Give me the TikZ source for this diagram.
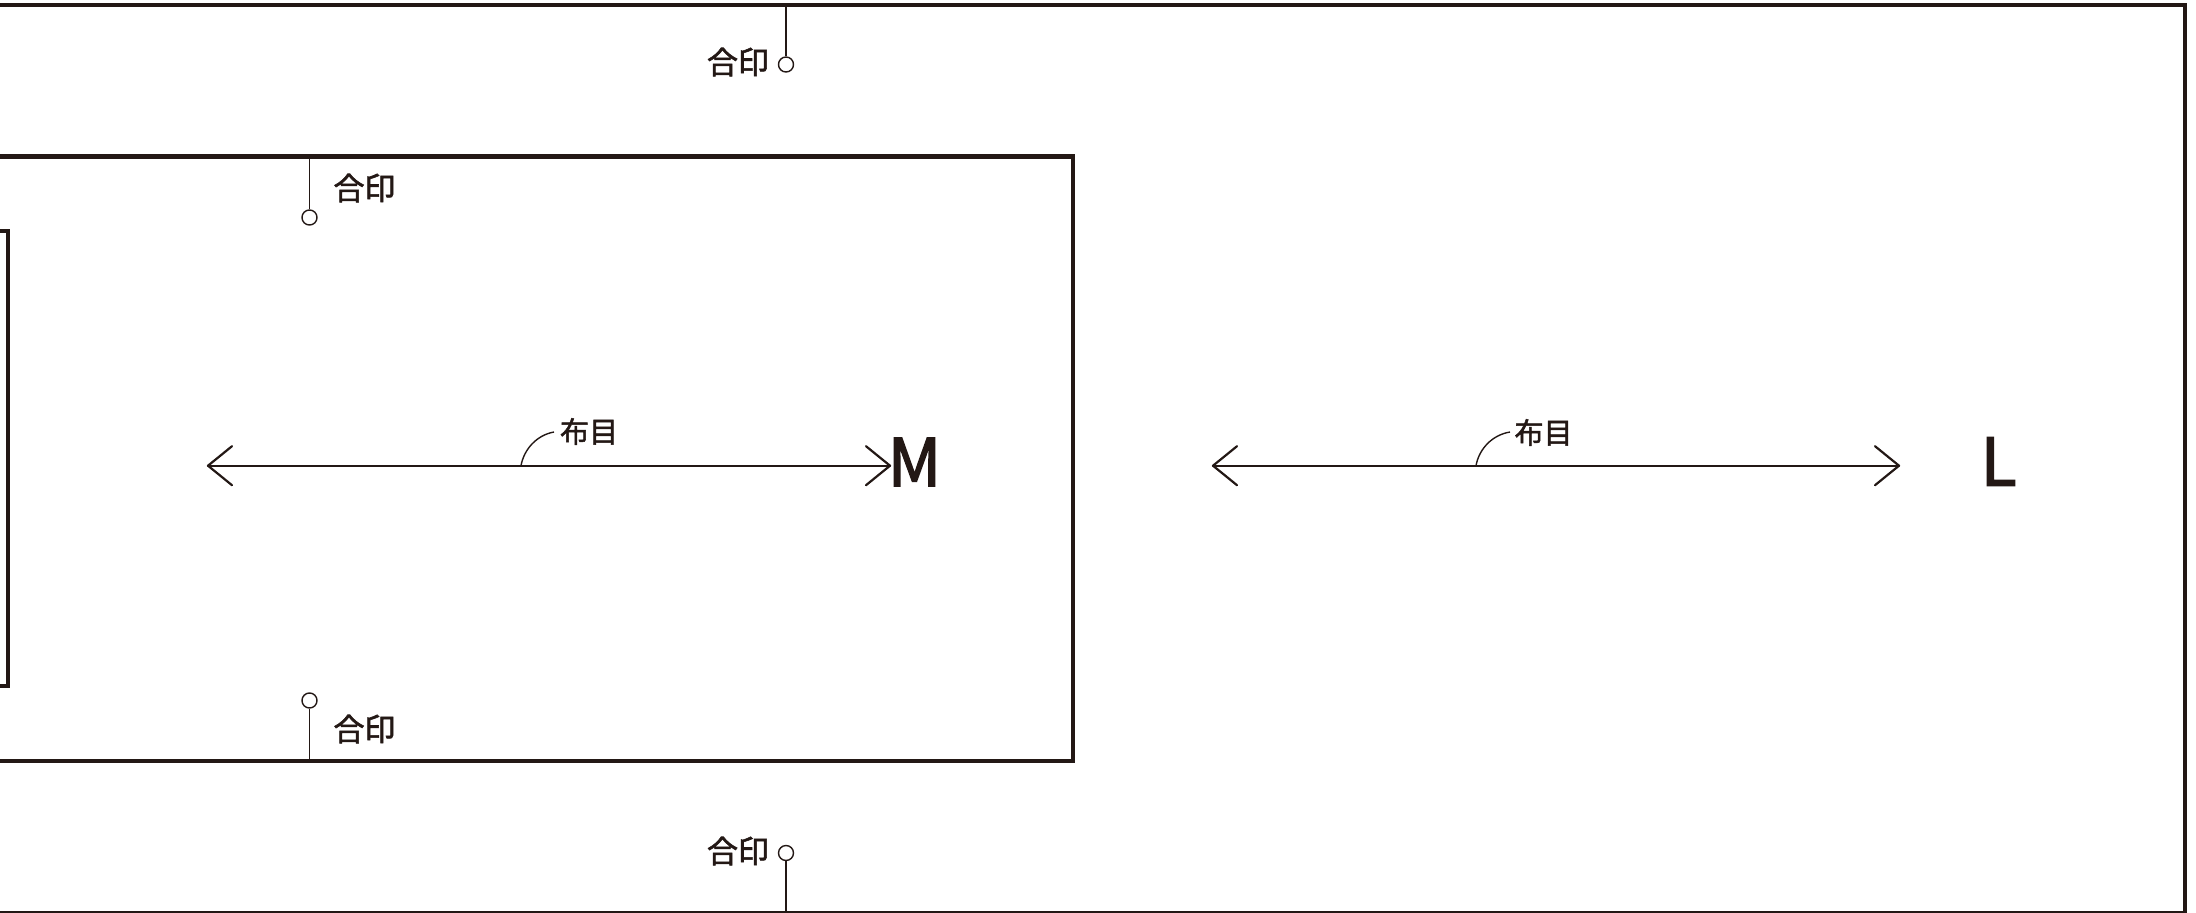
\documentclass[tikz,border=0pt]{standalone}
\usepackage{fontspec}
\newfontfamily\jpb[FakeBold=1.8]{Noto Sans CJK JP}
\newfontfamily\jpm[FakeBold=2.2]{Noto Sans CJK JP}
\definecolor{ink}{RGB}{35,24,21}
\tikzset{
  frame/.style={draw=ink, line width=4.5pt},
  grain/.style={draw=ink, line width=2.2pt, line join=round, line cap=round},
  thin/.style={draw=ink, line width=1.4pt},
  seal/.style={circle, draw=ink, line width=1.4pt, fill=white, minimum size=15pt, inner sep=0pt},
  sealtxt/.style={inner sep=0pt, text=ink, font=\jpb\fontsize{31}{33}\selectfont},
  graintxt/.style={inner sep=0pt, text=ink, font=\jpb\fontsize{29}{31}\selectfont},
  sizetxt/.style={inner sep=0pt, text=ink, font=\jpm\fontsize{66}{70}\selectfont}
}
\begin{document}
\begin{tikzpicture}[x=1pt,y=-1pt]
\useasboundingbox (0,0) rectangle (2196,913);
% frames
\draw[frame, line width=4pt] (-20,5.3) rectangle (2185,912.5);
\draw[frame] (-20,156.5) rectangle (1073,761);
\draw[frame] (-20,231) rectangle (8,686);

% seals (合印)
\coordinate (t1) at (786,5.3);
\node[seal] (s1) at (786,64.5) {};
\draw[thin] (t1) -- (s1);
\node[sealtxt] (l1) at (738,62) {合印};

\coordinate (t2) at (309.5,156.5);
\node[seal] (s2) at (309.5,217.5) {};
\draw[thin] (t2) -- (s2);
\node[sealtxt] (l2) at (364.5,188) {合印};

\coordinate (t3) at (309.5,761);
\node[seal] (s3) at (309.5,700.5) {};
\draw[thin] (s3) -- (t3);
\node[sealtxt] (l3) at (364.5,729) {合印};

\coordinate (t4) at (786,912.5);
\node[seal] (s4) at (786,853) {};
\draw[thin] (s4) -- (t4);
\node[sealtxt] (l4) at (738,851) {合印};

% grain line M
\coordinate (ma) at (208,465.7);
\coordinate (mb) at (890,465.7);
\draw[grain] (ma) -- (mb);
\draw[grain] ([shift={(24,-19.5)}]ma) -- (ma) -- ([shift={(24,19.5)}]ma);
\draw[grain] ([shift={(-24,-19.5)}]mb) -- (mb) -- ([shift={(-24,19.5)}]mb);
\coordinate (mc) at (521,465.7);
\coordinate (md) at (554,432);
\draw[thin] (mc) .. controls (524,449) and (537,435) .. (md);
\node[graintxt] (mt) at (589,431.5) {布目};
\node[sizetxt] (M) at (914.5,462) {M};

% grain line L
\coordinate (la) at (1213,465.7);
\coordinate (lb) at (1899,465.7);
\draw[grain] (la) -- (lb);
\draw[grain] ([shift={(24,-19.5)}]la) -- (la) -- ([shift={(24,19.5)}]la);
\draw[grain] ([shift={(-24,-19.5)}]lb) -- (lb) -- ([shift={(-24,19.5)}]lb);
\coordinate (lc) at (1476,465.7);
\coordinate (ld) at (1510,432);
\draw[thin] (lc) .. controls (1479,449) and (1492,435) .. (ld);
\node[graintxt] (lt) at (1543.5,432.5) {布目};
\node[sizetxt] (L) at (1998.5,461.5) {L};
\end{tikzpicture}
\end{document}
